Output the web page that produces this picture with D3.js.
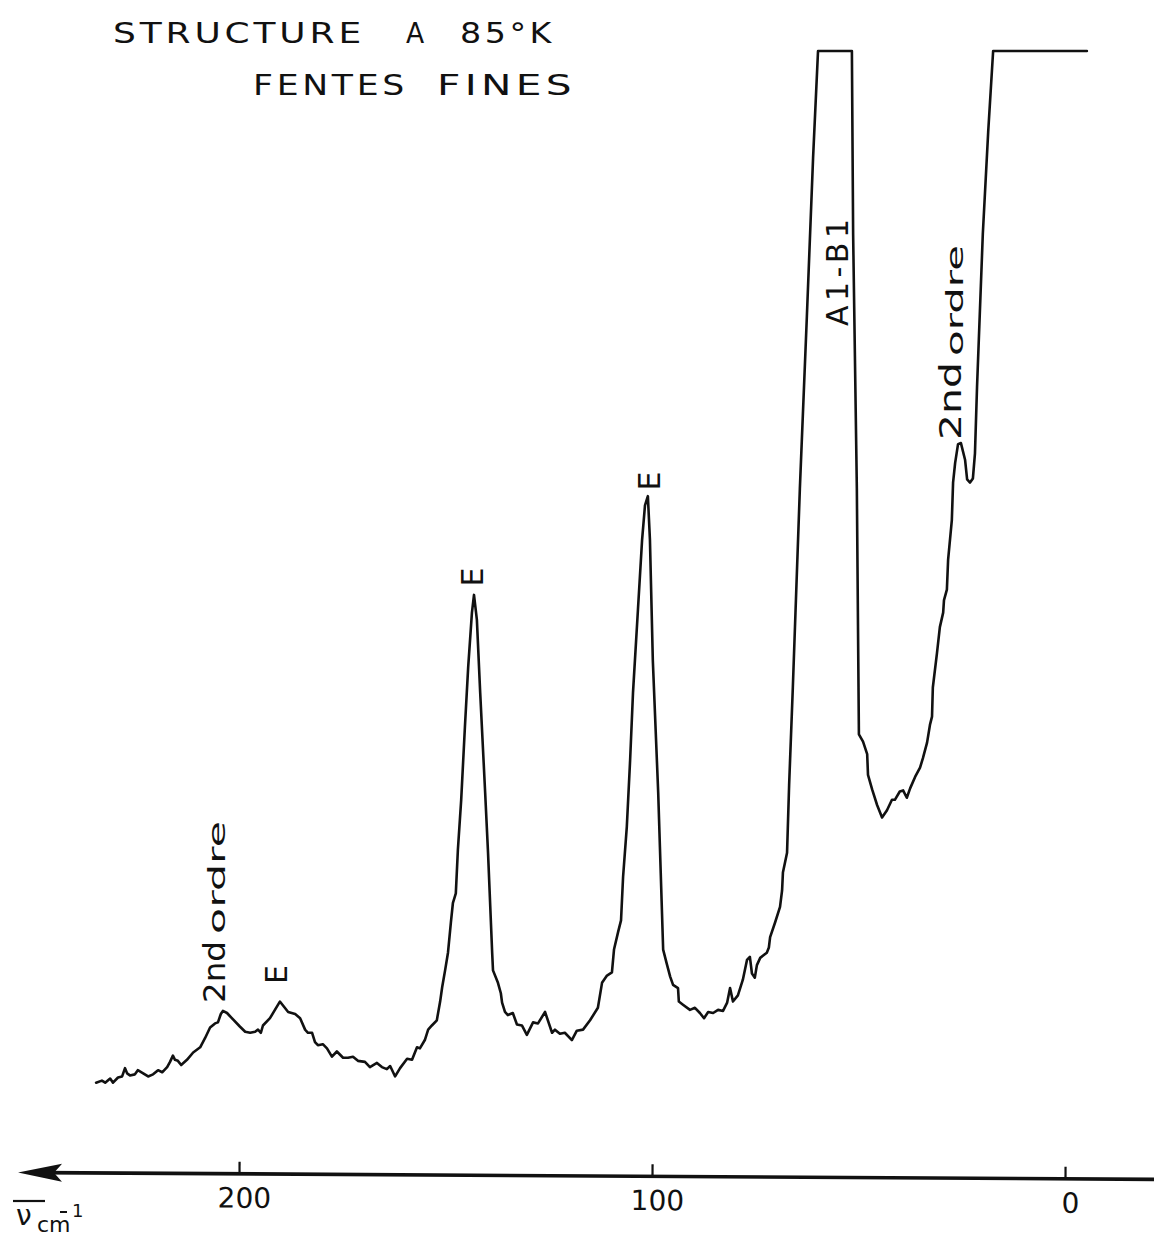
<!DOCTYPE html>
<html>
<head>
<meta charset="utf-8">
<script src="https://cdn.jsdelivr.net/npm/d3@7"></script>
<style>
  html, body { margin: 0; padding: 0; background: #fff; }
  svg { display: block; }
  text { font-family: "DejaVu Sans", sans-serif; fill: #111; }
</style>
</head>
<body>
<svg id="chart" width="1154" height="1237"></svg>
<script>
// Raman trace: [wavenumber (cm-1), recorder intensity (100 = pen full scale)]
const spectrum = [
  [234.6,0.8],[233.2,1.0],[232.4,0.8],[231.2,1.2],[230.5,0.8],[229.3,1.3],[228.3,1.4],[227.6,2.2],[227.1,1.7],[226.4,1.5],
  [225.2,1.6],[224.5,2.0],[223.2,1.7],[222.0,1.4],[220.8,1.6],[219.6,2.0],[218.6,1.8],[217.4,2.3],[216.7,2.8],[216.0,3.4],
  [215.5,3.0],[214.8,2.9],[214.0,2.5],[212.6,3.0],[211.1,3.7],[209.4,4.2],[208.2,5.1],[207.0,6.1],[205.8,6.5],[205.1,6.6],
  [204.4,7.4],[203.9,7.7],[202.9,7.5],[201.5,6.9],[199.8,6.2],[198.5,5.7],[197.3,5.6],[196.1,5.7],[195.4,5.9],[194.7,5.6],
  [194.2,6.3],[192.5,7.0],[191.3,7.8],[190.1,8.6],[189.1,8.1],[188.1,7.6],[186.4,7.4],[185.2,7.0],[184.0,5.9],[183.3,5.6],
  [182.3,5.6],[181.6,4.7],[180.9,4.4],[179.7,4.5],[178.7,4.1],[177.5,3.3],[176.3,3.8],[174.8,3.2],[173.6,3.2],[172.4,3.3],
  [171.2,2.9],[169.5,2.8],[168.3,2.3],[166.6,2.7],[165.4,2.3],[164.2,2.1],[163.4,2.4],[162.2,1.4],[161.0,2.2],[159.3,3.1],
  [158.1,3.0],[156.9,4.2],[156.2,4.1],[155.0,4.9],[154.2,5.9],[153.3,6.3],[152.1,6.8],[151.3,8.6],[150.8,10.0],[150.1,11.6],
  [149.4,13.3],[148.7,16.2],[148.2,18.1],[147.5,19.0],[147.0,23.2],[146.2,28.0],[145.3,35.0],[144.5,40.8],[143.6,46.0],[143.1,47.7],
  [142.4,45.3],[141.6,38.3],[140.4,28.7],[139.7,22.9],[138.7,13.3],[138.5,11.6],[137.3,10.4],[136.6,9.4],[136.3,8.5],[135.6,7.6],
  [134.9,7.3],[133.7,7.5],[132.7,6.4],[131.5,6.3],[130.3,5.4],[128.8,6.6],[127.6,6.5],[125.9,7.6],[124.2,5.6],[123.5,5.9],
  [122.3,5.5],[121.1,5.6],[119.4,4.9],[118.2,5.8],[116.7,5.9],[115.0,6.8],[113.1,8.0],[112.1,10.4],[110.9,11.1],[109.7,11.4],
  [109.2,13.6],[108.2,15.3],[107.5,16.4],[107.0,20.6],[106.1,25.4],[105.3,31.8],[104.6,38.3],[103.4,46.3],[102.4,53.0],[101.7,56.3],
  [101.0,57.2],[100.5,53.0],[99.8,41.4],[98.5,28.7],[97.3,13.6],[96.4,12.2],[95.6,11.0],[94.9,10.2],[93.7,9.9],[93.5,8.6],
  [92.5,8.3],[90.8,7.8],[89.6,8.0],[88.4,7.5],[87.4,7.0],[86.4,7.6],[85.2,7.5],[84.0,7.8],[82.8,7.7],[81.8,8.5],
  [81.1,9.9],[80.4,8.6],[79.2,9.2],[78.0,10.7],[77.0,12.6],[76.3,12.9],[75.8,11.3],[75.1,10.9],[74.6,12.1],[73.8,12.8],
  [72.2,13.3],[71.7,13.8],[71.4,14.8],[70.2,16.2],[69.0,17.7],[68.5,19.3],[68.3,21.0],[67.3,22.9],[66.8,29.4],[65.9,38.8],
  [64.2,57.9],[62.5,74.5],[61.0,89.7],[59.8,100],[51.6,100],[51.3,82.4],[50.4,57.9],[49.9,34.3],[48.9,33.6],[47.9,32.4],
  [47.7,30.4],[46.7,29.0],[45.5,27.5],[44.3,26.3],[43.1,27.0],[41.9,28.0],[41.2,28.0],[40.0,28.8],[39.2,28.9],[38.3,28.2],
  [37.5,29.1],[36.3,30.2],[35.1,31.1],[34.4,32.0],[33.4,33.5],[32.7,35.2],[32.2,36.0],[32.0,38.8],[31.0,42.1],[30.3,44.6],
  [29.5,46.0],[29.3,47.2],[28.6,48.2],[28.3,51.1],[27.4,54.9],[27.1,58.5],[26.6,60.4],[25.9,62.2],[25.2,62.3],[24.2,60.7],
  [23.7,58.8],[23.0,58.5],[22.3,58.9],[21.8,61.3],[21.3,67.7],[19.9,82.4],[18.6,92.2],[17.4,100],[-5.3,100]
];

// Axis ticks (cm-1)
const axisTicks = [200, 100, 0];

// Band assignments marked on the E peaks
const peakLabels = [
  { nu: 190.1, text: "E" },
  { nu: 143.1, text: "E" },
  { nu: 101.0, text: "E" }
];

// Title lines
const titleLine1 = ["STRUCTURE", "A", "85°K"];
const titleLine2 = ["FENTES", "FINES"];

const svg = d3.select("#chart");

const x = d3.scaleLinear().domain([0, 200]).range([1065, 239]);
const y = d3.scaleLinear().domain([0, 100]).range([1091, 51]);

// ---- title (wide, stencil-like lettering) ----
const t1Layout = [[113, 252], [406, 21], [460, 95]];
const t2Layout = [[253, 155], [437, 139]];
function titleRow(words, layout, baseline) {
  svg.append("g").selectAll("text").data(words).join("text")
    .attr("x", (d, i) => layout[i][0])
    .attr("y", baseline)
    .attr("font-size", 28)
    .attr("letter-spacing", 3)
    .attr("textLength", (d, i) => layout[i][1])
    .attr("lengthAdjust", "spacingAndGlyphs")
    .text(d => d);
}
titleRow(titleLine1, t1Layout, 43);
titleRow(titleLine2, t2Layout, 95);

// ---- spectrum trace ----
const line = d3.line()
  .x(d => x(d[0]))
  .y(d => y(d[1]));

svg.append("path")
  .datum(spectrum)
  .attr("d", line)
  .attr("fill", "none")
  .attr("stroke", "#111")
  .attr("stroke-width", 2.6)
  .attr("stroke-linejoin", "round")
  .attr("stroke-linecap", "round");

// ---- peak labels (rotated) ----
function intensityAt(nu) {
  const p = spectrum.find(d => d[0] === nu);
  return p ? p[1] : 0;
}
const peakOffsets = [[7, -27], [9, -18], [12, -15]];
svg.append("g").selectAll("text").data(peakLabels).join("text")
  .attr("transform", (d, i) =>
    `translate(${x(d.nu) + peakOffsets[i][0]},${y(intensityAt(d.nu)) + peakOffsets[i][1]}) rotate(-90)`)
  .attr("text-anchor", "middle")
  .attr("font-size", 30)
  .text(d => d.text);

// vertical annotation written upward from a baseline point
function vText(bx, by, str, size, len, adjust) {
  svg.append("text")
    .attr("transform", `translate(${bx},${by}) rotate(-90)`)
    .attr("font-size", size)
    .attr("textLength", len)
    .attr("lengthAdjust", adjust)
    .text(str);
}
// second-order band, high-wavenumber side
vText(225, 1003, "2nd", 30, 62, "spacingAndGlyphs");
vText(225, 934, "ordre", 23, 113, "spacingAndGlyphs");
// second-order band, low-wavenumber side
vText(961, 440, "2nd", 30, 78, "spacingAndGlyphs");
vText(963, 356, "ordre", 23, 111, "spacingAndGlyphs");
// saturated A1-B1 band
vText(848, 326, "A1-B1", 30, 107, "spacing");

// ---- wavenumber axis ----
const axisG = svg.append("g")
  .attr("transform", "rotate(0.35, 600, 1176)");

axisG.append("line")
  .attr("x1", 40).attr("x2", 1154)
  .attr("y1", 1176).attr("y2", 1176)
  .attr("stroke", "#111")
  .attr("stroke-width", 3.6);

axisG.append("path")
  .attr("d", "M18,1176 L62,1167 L54,1176 L62,1185 Z")
  .attr("fill", "#111");

const xAxis = d3.axisBottom(x)
  .tickValues(axisTicks)
  .tickFormat(d3.format("d"))
  .tickSizeInner(-12)
  .tickSizeOuter(0)
  .tickPadding(14);

const ax = axisG.append("g")
  .attr("transform", "translate(0,1176)")
  .call(xAxis);
ax.select(".domain").remove();
ax.selectAll(".tick line").attr("stroke", "#111").attr("stroke-width", 2.2);
ax.selectAll(".tick text")
  .attr("font-family", "DejaVu Sans, sans-serif")
  .attr("font-size", 28)
  .attr("fill", "#111")
  .attr("dx", 5);

// ---- axis unit: ν̄ cm⁻¹ ----
svg.append("line")
  .attr("x1", 13).attr("x2", 45)
  .attr("y1", 1201).attr("y2", 1201)
  .attr("stroke", "#111").attr("stroke-width", 2.2);
// minus sign of the exponent, set over the "m"
svg.append("line")
  .attr("x1", 60).attr("x2", 67)
  .attr("y1", 1212).attr("y2", 1212)
  .attr("stroke", "#111").attr("stroke-width", 2);
const unit = svg.append("text");
unit.append("tspan").attr("x", 16).attr("y", 1225).attr("font-size", 28).text("ν");
unit.append("tspan").attr("x", 37).attr("y", 1232).attr("font-size", 22).text("cm");
unit.append("tspan").attr("x", 72).attr("y", 1217).attr("font-size", 18).text("1");
</script>
</body>
</html>
